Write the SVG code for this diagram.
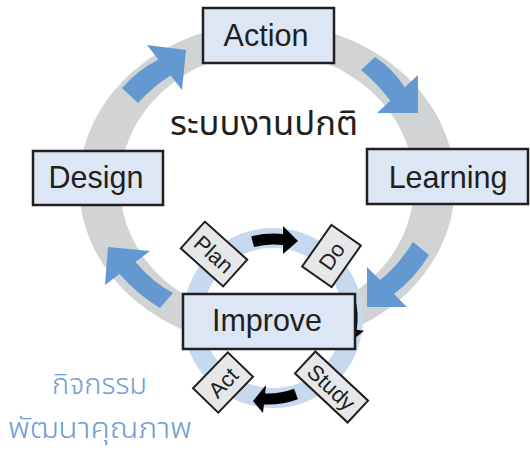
<svg xmlns="http://www.w3.org/2000/svg" width="530" height="451" viewBox="0 0 530 451">
<style>
.box{fill:#dce6f4;stroke:#231f20;stroke-width:2.5}
.sbox{fill:#e6e7e8;stroke:#231f20;stroke-width:2}
.lbl{font-family:"Liberation Sans",Arial,sans-serif;font-size:30.5px;fill:#231f20;text-anchor:middle}
.slbl{font-family:"Liberation Sans",Arial,sans-serif;font-size:22px;fill:#231f20;text-anchor:middle}
.thai{font-family:"Noto Sans Thai","Noto Sans","DejaVu Sans",sans-serif;text-anchor:middle}
.barrow{fill:#6399d0}
.karrow{fill:#000}
.kshaft{fill:none;stroke:#000;stroke-width:11}
</style>
<rect width="530" height="451" fill="#ffffff"/>
<path id="main-ring" fill="#d1d3d4" fill-rule="evenodd" d="M79,185 a188,162 0 1,0 376,0 a188,162 0 1,0 -376,0 Z M120,185 a147,133 0 1,0 294,0 a147,133 0 1,0 -294,0 Z"/>
<circle id="pdsa-ring" cx="273" cy="318" r="80" fill="none" stroke="#c7d9ef" stroke-width="20"/>
<g id="connectors">
  <path class="barrow" d="M122,88 Q138,70 158.4,59.6 L147,45 L186,50 L182,90 L170.6,75.4 Q152,87 138,103 Z"/>
  <path class="barrow" d="M375,57 Q392,68 404.8,87.2 L418,75 L418,113 L377,113 L390.2,100.8 Q378,84 361,70 Z"/>
  <path class="barrow" d="M429,255 Q415,278 394,294 L407,307 L367,307 L367,267 L380,280 Q398,266 413,242 Z"/>
  <path class="barrow" d="M160,308 Q138,295 119.5,274 L105,285 L108,247 L150,251 L135.5,262 Q152,282 173,293 Z"/>
  <path class="kshaft" d="M252.6,241.7 A79,79 0 0,1 285,239.9"/>
  <polygon class="karrow" points="283,226 283,254 298,241"/>
  <path class="kshaft" d="M349.3,297.5 A79,79 0 0,1 351.2,330"/>
  <polygon class="karrow" points="338.4,327.2 364.1,330.8 347.7,343.7"/>
  <path class="kshaft" d="M296,394 A80,80 0 0,1 264,399"/>
  <polygon class="karrow" points="266,385 263,413 253,401"/>
</g>
<g id="node-action">
  <rect class="box" x="203" y="8" width="131" height="55"/>
  <text class="lbl" x="266" y="45.5">Action</text>
</g>
<g id="node-design">
  <rect class="box" x="33" y="151" width="130" height="54"/>
  <text class="lbl" x="96" y="187.5">Design</text>
</g>
<g id="node-learning">
  <rect class="box" x="367" y="149" width="161" height="55"/>
  <text class="lbl" x="448" y="187.5">Learning</text>
</g>
<g id="node-improve">
  <rect class="box" x="183" y="294" width="172" height="55"/>
  <text class="lbl" x="267" y="331">Improve</text>
</g>
<g id="node-plan" transform="translate(214,254) rotate(42)">
  <rect class="sbox" x="-28.5" y="-18" width="57" height="36"/>
  <text class="slbl" y="8">Plan</text>
</g>
<g id="node-do" transform="translate(331.5,256) rotate(-55)">
  <rect class="sbox" x="-25.5" y="-18" width="51" height="36"/>
  <text class="slbl" y="8">Do</text>
</g>
<g id="node-study" transform="translate(331.5,387) rotate(43)">
  <rect class="sbox" x="-36" y="-15" width="72" height="30"/>
  <text class="slbl" y="8">Study</text>
</g>
<g id="node-act" transform="translate(223,382.5) rotate(-46)">
  <rect class="sbox" x="-25" y="-17.5" width="50" height="35"/>
  <text class="slbl" y="8">Act</text>
</g>
<text class="thai" x="264" y="135" font-size="34" fill="#231f20" textLength="188" lengthAdjust="spacingAndGlyphs">ระบบงานปกติ</text>
<text class="thai" x="99.5" y="394" font-size="29" font-weight="300" fill="#6d9ed4" textLength="95" lengthAdjust="spacingAndGlyphs">กิจกรรม</text>
<text class="thai" x="100" y="438" font-size="29" font-weight="300" fill="#6d9ed4" textLength="184" lengthAdjust="spacingAndGlyphs">พัฒนาคุณภาพ</text>
</svg>
